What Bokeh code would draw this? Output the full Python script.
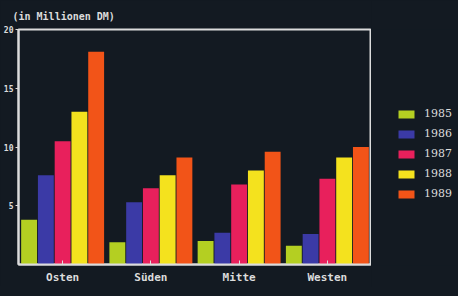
from bokeh.plotting import figure
from bokeh.layouts import row
from bokeh.models import ColumnDataSource, FactorRange, Range1d, Legend, LegendItem, FixedTicker
from bokeh.transform import dodge
from bokeh.embed import file_html
from bokeh.resources import INLINE

regions = ["Osten", "Süden", "Mitte", "Westen"]
years = ["1985", "1986", "1987", "1988", "1989"]
v1985 = [3.8, 1.9, 2.0, 1.6]
v1986 = [7.6, 5.3, 2.7, 2.6]
v1987 = [10.5, 6.5, 6.8, 7.3]
v1988 = [13.0, 7.6, 8.0, 9.1]
v1989 = [18.1, 9.1, 9.6, 10.0]
y_ticks = [5, 10, 15, 20]

colors = ["#b4cf22", "#3b3aa6", "#e8205c", "#f4e21e", "#f25418"]
series = [v1985, v1986, v1987, v1988, v1989]

BG = "#131a22"
FG = "#dcdcdc"

src = ColumnDataSource(dict(region=regions, **{y: s for y, s in zip(years, series)}))

main = figure(frame_width=353, frame_height=235, x_range=FactorRange(*regions, range_padding=0),
              y_range=Range1d(0, 20), output_backend="svg", toolbar_location=None,
              title="(in Millionen DM)",
              background_fill_color=BG, border_fill_color=BG,
              min_border_left=0, min_border_top=0, min_border_bottom=0, min_border_right=0)

offsets = [-0.38, -0.19, 0.0, 0.19, 0.38]
for y, c, off in zip(years, colors, offsets):
    main.vbar(x=dodge("region", off, range=main.x_range), top=y, width=0.18, source=src,
              fill_color=c, line_color=None)

main.title.text_font = "DejaVu Sans Mono"
main.title.text_font_style = "bold"
main.title.text_font_size = "10px"
main.title.text_color = FG
main.title.offset = -6
main.title.standoff = 16

main.grid.visible = False
main.outline_line_color = FG
main.outline_line_width = 2

main.yaxis.ticker = FixedTicker(ticks=y_ticks)
main.yaxis.axis_line_color = FG
main.yaxis.axis_line_width = 2
main.yaxis.major_tick_line_color = FG
main.yaxis.major_tick_in = 0
main.yaxis.major_tick_out = 3
main.yaxis.minor_tick_line_color = None
main.yaxis.major_label_text_color = FG
main.yaxis.major_label_text_font = "DejaVu Sans Mono"
main.yaxis.major_label_text_font_style = "bold"
main.yaxis.major_label_text_font_size = "8px"
main.yaxis.major_label_standoff = 2

main.xaxis.axis_line_color = FG
main.xaxis.axis_line_width = 2
main.xaxis.major_tick_line_color = FG
main.xaxis.major_tick_in = 4
main.xaxis.major_tick_out = 0
main.xaxis.major_label_text_color = FG
main.xaxis.major_label_text_font = "DejaVu Sans Mono"
main.xaxis.major_label_text_font_style = "bold"
main.xaxis.major_label_text_font_size = "11px"
main.xaxis.major_label_standoff = 6

# legend panel (a small companion figure that only holds the legend)
leg = figure(width=86, height=287, output_backend="svg", toolbar_location=None,
             x_range=Range1d(0, 1), y_range=Range1d(0, 1),
             background_fill_color=BG, border_fill_color=BG, outline_line_color=None,
             min_border=0)
leg.axis.visible = False
leg.grid.visible = False
items = []
for y, c in zip(years, colors):
    r = leg.vbar(x=[float("nan")], top=[float("nan")], width=0.5, fill_color=c, line_color=None)
    items.append(LegendItem(label=y, renderers=[r]))

legend = Legend(items=items, location=(25, 65), orientation="vertical")
legend.background_fill_alpha = 0
legend.border_line_color = None
legend.padding = 3
legend.margin = 0
legend.glyph_width = 20
legend.glyph_height = 10
legend.label_height = 10
legend.spacing = 7
legend.label_standoff = 8
legend.label_text_font = "DejaVu Serif"
legend.label_text_font_size = "11px"
legend.label_text_color = FG
leg.add_layout(legend, "center")

p = row(main, leg, spacing=0)

tmpl = """{% block preamble %}<style>html, body { background: #131a22; }</style>{% endblock %}"""
open("out.html", "w").write(file_html(p, INLINE, template=tmpl))
